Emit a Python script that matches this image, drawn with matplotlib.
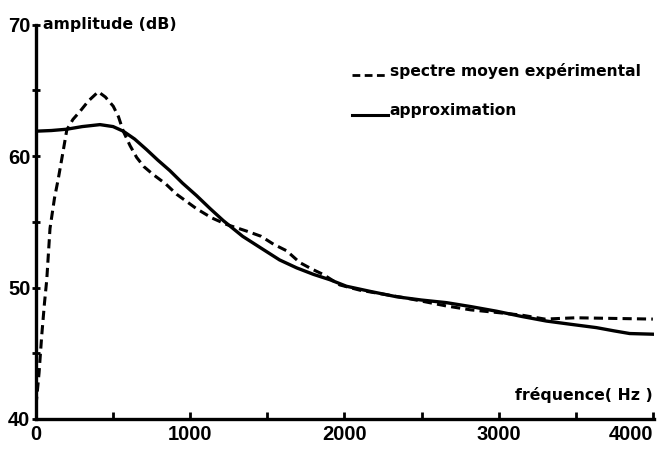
import matplotlib
matplotlib.use("Agg")
import matplotlib.pyplot as plt
from matplotlib.ticker import MultipleLocator

# values
freq_exp = [0, 20, 37, 55, 70, 91, 120, 145, 175, 200, 240, 285, 340, 404, 450,
            501, 535, 566, 610, 653, 700, 760, 840, 912, 1041, 1140, 1236, 1365,
            1460, 1540, 1625, 1711, 1790, 1862, 1970, 2100, 2250, 2400, 2530, 2660,
            2820, 2990, 3150, 3300, 3500, 3750, 4000]
amp_exp = [41.0, 43.5, 46.3, 48.8, 50.6, 54.5, 56.8, 58.3, 60.3, 62.0, 62.8, 63.4,
           64.2, 64.9, 64.5, 63.8, 63.0, 61.9, 60.8, 59.9, 59.2, 58.6, 57.9, 57.1,
           56.0, 55.3, 54.8, 54.3, 53.9, 53.3, 52.8, 51.9, 51.4, 51.0, 50.2, 49.8,
           49.5, 49.2, 48.9, 48.6, 48.3, 48.1, 47.9, 47.6, 47.7, 47.65, 47.6]

freq_app = [0, 100, 200, 300, 415, 500, 566, 640, 717, 790, 868, 950, 1041, 1130,
            1214, 1340, 1473, 1580, 1690, 1800, 1905, 2013, 2170, 2338, 2500, 2662,
            2820, 2986, 3150, 3310, 3470, 3634, 3750, 3850, 4000]
amp_app = [61.9, 61.95, 62.05, 62.25, 62.4, 62.25, 61.9, 61.3, 60.5, 59.7, 58.9,
           57.95, 57.0, 56.0, 55.1, 53.9, 52.9, 52.1, 51.5, 51.0, 50.6, 50.1, 49.7,
           49.3, 49.05, 48.85, 48.55, 48.2, 47.8, 47.45, 47.2, 46.95, 46.7, 46.5, 46.45]

x_ticks = [0, 1000, 2000, 3000, 4000]
y_ticks = [40, 50, 60, 70]

plt.rcParams['font.family'] = ['DejaVu Sans']
plt.rcParams['font.weight'] = 'bold'

fig = plt.figure(figsize=(6.6, 4.5), dpi=100)
ax = fig.add_axes([0.0545, 0.069, 0.937, 0.876])

ax.plot(freq_exp, amp_exp, color='black', lw=2.2, linestyle=(0, (3.0, 1.7)))
ax.plot(freq_app, amp_app, color='black', lw=2.4)

ax.set_xlim(0, 4010)
ax.set_ylim(40, 70)
ax.set_xticks(x_ticks)
ax.set_yticks(y_ticks)
ax.xaxis.set_minor_locator(MultipleLocator(500))
ax.yaxis.set_minor_locator(MultipleLocator(5))
ax.tick_params(axis='x', which='both', direction='in', length=5, width=2, pad=4)
ax.tick_params(axis='y', which='both', direction='inout', length=6, width=2, pad=1)

# digits in the scan are narrow, use Liberation Sans for them
for lab in ax.get_xticklabels() + ax.get_yticklabels():
    lab.set_fontfamily('Liberation Sans')
    lab.set_fontsize(14.5)
    lab.set_fontweight('bold')
ax.get_xticklabels()[-1].set_horizontalalignment('right')

for side in ['top', 'right']:
    ax.spines[side].set_visible(False)
for side in ['left', 'bottom']:
    ax.spines[side].set_linewidth(2.4)

ax.text(0.011, 1.0, 'amplitude (dB)', transform=ax.transAxes, fontsize=11.3,
        fontweight='bold', va='center', ha='left')
ax.text(0.997, 0.061, 'fréquence( Hz )', transform=ax.transAxes, fontsize=11.3,
        fontweight='bold', va='center', ha='right')

# legend drawn by hand like the original
ax.plot([2048, 2275], [66.2, 66.2], color='black', lw=2.0,
        linestyle=(0, (2.8, 1.6)), clip_on=False)
ax.text(2294, 66.5, 'spectre moyen expérimental', fontsize=11.2, fontweight='bold',
        va='center', ha='left')
ax.plot([2048, 2280], [63.15, 63.15], color='black', lw=2.2, clip_on=False)
ax.text(2294, 63.5, 'approximation', fontsize=11.2, fontweight='bold',
        va='center', ha='left')

fig.savefig('out.png', dpi=100)
